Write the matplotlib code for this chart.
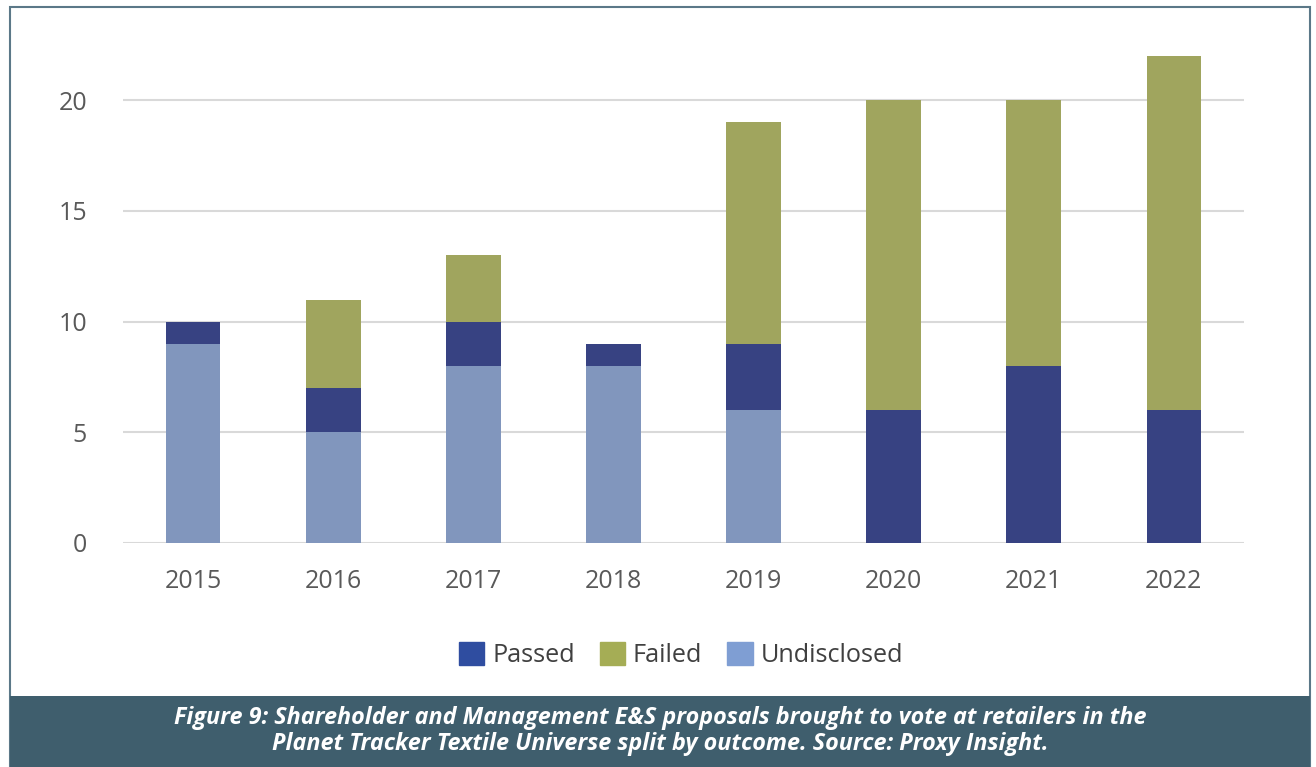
import matplotlib.pyplot as plt
from matplotlib.patches import Rectangle, Patch

years = ['2015', '2016', '2017', '2018', '2019', '2020', '2021', '2022']
undisclosed = [9, 5, 8, 8, 6, 0, 0, 0]
passed = [1, 2, 2, 1, 3, 6, 8, 6]
failed = [0, 4, 3, 0, 10, 14, 12, 16]
yticks = [0, 5, 10, 15, 20]

caption = ("Figure 9: Shareholder and Management E&S proposals brought to vote at retailers in the\n"
           "Planet Tracker Textile Universe split by outcome. Source: Proxy Insight.")

plt.rcParams['font.family'] = ['Open Sans', 'DejaVu Sans']

fig = plt.figure(figsize=(13.16, 7.67), dpi=100)
W, H = 1316, 767

# outer frame and caption band
fig.patches.append(Rectangle((10 / W, 0), 1300 / W, 760 / H, transform=fig.transFigure,
                             facecolor='none', edgecolor='#5b7888', linewidth=1.5))
fig.patches.append(Rectangle((10 / W, 0), 1300 / W, 71 / H, transform=fig.transFigure,
                             facecolor='#3f5e6d', edgecolor='none'))
fig.text(660 / W, 36 / H, caption, ha='center', va='center', color='white',
         fontsize=16.8, fontstyle='italic', fontweight='bold', linespacing=1.15)

ax = fig.add_axes([123 / W, (H - 543) / H, 1121 / W, (543 - 35) / H])
x = range(len(years))
w = 0.39
ax.bar(x, undisclosed, w, color='#8196bd', zorder=3)
ax.bar(x, passed, w, bottom=undisclosed, color='#374282', zorder=3)
base = [u + p for u, p in zip(undisclosed, passed)]
ax.bar(x, failed, w, bottom=base, color='#a0a55e', zorder=3)

ax.set_xlim(-0.5, len(years) - 0.5)
ax.set_ylim(0, 22.95)
ax.set_yticks(yticks)
ax.set_xticks(list(x))
ax.set_xticklabels(years)
ax.grid(axis='y', color='#d9d9d9', linewidth=1.5, zorder=0)
for s in ax.spines.values():
    s.set_visible(False)
ax.tick_params(length=0, labelsize=18, labelcolor='#595959')
ax.tick_params(axis='x', pad=19)
ax.tick_params(axis='y', pad=26)

handles = [Patch(color='#2f4da0', label='Passed'),
           Patch(color='#a5ad55', label='Failed'),
           Patch(color='#7f9ed3', label='Undisclosed')]
fig.legend(handles=handles, loc='center', bbox_to_anchor=(681 / W, (H - 655) / H),
           ncol=3, frameon=False, fontsize=18.2, labelcolor='#404040',
           handlelength=1.0, handleheight=1.0, handletextpad=0.3, columnspacing=1.0)

fig.savefig('out.png', dpi=100)
